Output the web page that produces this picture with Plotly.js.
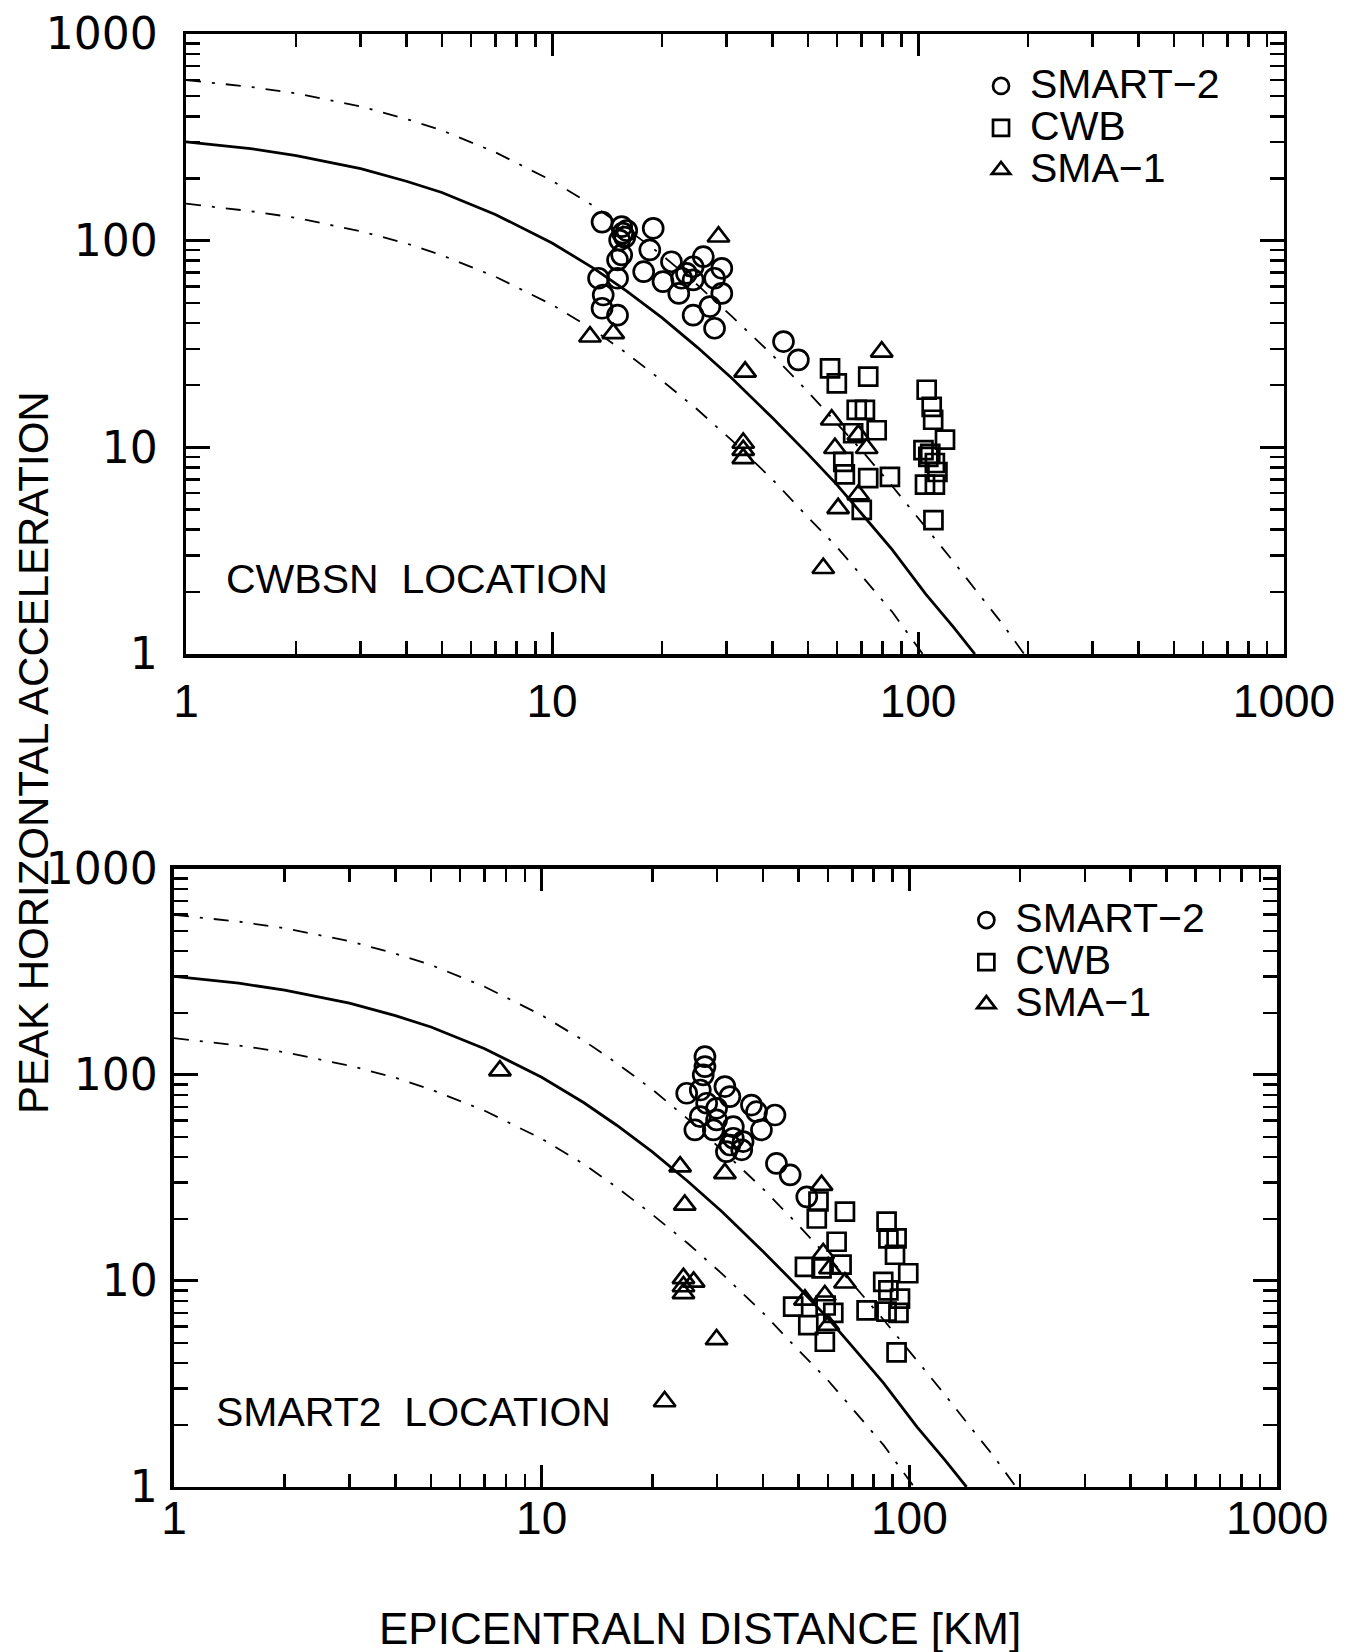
<!DOCTYPE html>
<html>
<head>
<meta charset="utf-8">
<script src="https://cdn.plot.ly/plotly-3.0.1.min.js"></script>
<style>html,body{margin:0;padding:0;background:#fff;}#chart{width:1357px;height:1652px;}</style>
</head>
<body>
<div id="chart"></div>
<script>
// ---------- data ----------
// Top panel: CWBSN location
var topSmartDist = [13.7,15.5,15.6,15.3,18.9,18.5,15.5,15.1,13.4,15.1,13.8,13.7,15.1,17.8,20.1,21.2,22.6,23.3,24.3,22.2,25.9,29.1,27.8,29.1,27.0,24.3,27.8,42.9,47.1,24.3,16.0,15.8];
var topSmartPga  = [123,117,108.7,100.7,114.8,90.2,85.3,80.7,65.8,65.8,54.6,47.1,43.6,70.8,63.4,79.1,65.8,69.5,64.6,55.6,83.7,73.5,65.8,55.6,48,43.6,37.7,32.5,26.5,74.8,112,104];
var topCwbDist = [57.5,60,73.1,68,71.6,77.1,66.5,62.5,63.1,73.1,83.8,70.2,105.6,109,110,118.5,103.5,106.7,111.2,104.5,111.2,110.2,108,113];
var topCwbPga  = [24.1,20.4,22,15.2,15.2,12.1,11.7,8.5,7.4,7.1,7.2,4.98,19,15.7,13.6,10.9,9.7,9.0,8.4,6.6,6.6,4.45,9.3,7.6];
var topSmaDist = [12.7,14.7,28.5,33.7,33.3,33.3,33.3,79.6,58.1,59.3,68.7,72.4,60.5,68.7,55.1];
var topSmaPga  = [34.3,35.6,104.5,23.2,10.5,9.7,8.85,29,13.6,9.9,11.5,9.9,5.07,5.9,2.6];

// Bottom panel: SMART2 location
var botSmartDist = [27.8,27.8,27.5,24.8,27,31.5,32.5,28.1,29.9,37.2,38.4,43.1,26.1,29.3,33.2,39.6,33.2,32.5,31.8,35,35.3,43.5,47.4,52.6,29.9,27];
var botSmartPga  = [122.7,109.7,100,81.5,84.5,87.8,78.5,72.9,68.9,71.4,66.3,63.9,54.1,54.1,56.1,54.1,49.3,45.7,42.4,43.3,47.5,37.2,32.7,25.6,60.5,62.8];
var botCwbDist = [56.6,66.8,56,63.4,65.4,52,57.7,48.3,62.1,53.1,58.9,76.5,86.7,92.3,87.7,91.4,99.3,84.9,87.7,94.3,86.7,93.4,92.3,59.2];
var botCwbPga  = [24.3,21.7,20.1,15.5,12,11.7,11.5,7.5,7,6.1,5.07,7.2,19.4,16.1,16.1,13.4,10.9,9.9,9,8.2,7.1,7,4.5,7.6];
var botSmaDist = [7.7,23.8,31.5,24.5,24.3,24.3,24.3,25.9,29.9,21.6,57.7,58.3,60.8,66.8,58.9,60.2,52];
var botSmaPga  = [105,35.9,33.3,23.4,10.3,9.4,8.7,9.9,5.2,2.6,29.2,13.6,11.5,9.8,8.5,6.1,8.1];

// Attenuation curves (same in both panels)
var meanDist  = [1,1.5,2,3,4,5,7,10,13,16,20,25,31,40,50,60,70,85,105,125,143];
var meanPga   = [301,279,258,223,194,171,134,97.5,73.5,57,42.3,30.4,21.6,13.9,9.3,6.6,4.8,3.2,1.95,1.35,1];
var upperDist = [1,1.5,2,3,4,5,7,10,13,16,20,25,31,40,50,60,70,85,105,125,145,170,195];
var upperPga  = [599,555,516,446,388,342,268,195,147,114,85,61,43,28,18.6,13.1,9.7,6.5,4.1,2.8,2.0,1.4,1];
var lowerDist = [1,1.5,2,3,4,5,7,10,13,16,20,25,31,40,50,60,70,85,103];
var lowerPga  = [151,139,129,111,97,85,67,49,37,28.5,21,15.2,10.8,7,4.6,3.3,2.4,1.6,1];

var tickVals = [1,10,100,1000];
var tickText = ['1','10','100','1000'];
var minorVals = [2,3,4,5,6,7,8,9,20,30,40,50,60,70,80,90,200,300,400,500,600,700,800,900];
var seriesNames = ['SMART\u22122','CWB','SMA\u22121'];
var panelLabels = ['CWBSN\u00a0\u00a0LOCATION','SMART2\u00a0\u00a0LOCATION'];
var xTitle = 'EPICENTRALN DISTANCE [KM]';
var yTitle = 'PEAK HORIZONTAL ACCELERATION';

// ---------- styles ----------
var ARIAL = 'Liberation Sans, Arial, sans-serif';
var WIDE = 'DejaVu Sans, Liberation Sans, sans-serif';
var dashDot = '15px,11px,3px,11px';

function curves(xa, ya) {
  return [
    {x: meanDist, y: meanPga, xaxis: xa, yaxis: ya, mode: 'lines', showlegend: false, hoverinfo: 'skip',
     line: {color: 'black', width: 2.8}},
    {x: upperDist, y: upperPga, xaxis: xa, yaxis: ya, mode: 'lines', showlegend: false, hoverinfo: 'skip',
     line: {color: 'black', width: 1.8, dash: dashDot}},
    {x: lowerDist, y: lowerPga, xaxis: xa, yaxis: ya, mode: 'lines', showlegend: false, hoverinfo: 'skip',
     line: {color: 'black', width: 1.8, dash: dashDot}}
  ];
}
function pts(xs, ys, xa, ya, name, symbol, size, legend) {
  return {x: xs, y: ys, xaxis: xa, yaxis: ya, mode: 'markers', name: '<span style="font-size:41px">' + name + '</span>',
    legend: legend, cliponaxis: false,
    marker: {symbol: symbol, size: size, color: 'black', line: {color: 'black', width: 2.7}}};
}

var data = [].concat(
  curves('x', 'y'),
  [pts(topSmartDist, topSmartPga, 'x', 'y', seriesNames[0], 'circle-open', 20, 'legend'),
   pts(topCwbDist, topCwbPga, 'x', 'y', seriesNames[1], 'square-open', 18, 'legend'),
   pts(topSmaDist, topSmaPga, 'x', 'y', seriesNames[2], 'triangle-up-open', 19, 'legend')],
  curves('x2', 'y2'),
  [pts(botSmartDist, botSmartPga, 'x2', 'y2', seriesNames[0], 'circle-open', 20, 'legend2'),
   pts(botCwbDist, botCwbPga, 'x2', 'y2', seriesNames[1], 'square-open', 18, 'legend2'),
   pts(botSmaDist, botSmaPga, 'x2', 'y2', seriesNames[2], 'triangle-up-open', 19, 'legend2')]
);

function xAxis(domain, anchor, standoff) {
  return {type: 'log', range: [0, 3], domain: domain, anchor: anchor,
    showline: true, linecolor: 'black', linewidth: 3.5, mirror: 'allticks',
    showgrid: false, zeroline: false,
    tickmode: 'array', tickvals: tickVals, ticktext: tickText,
    ticks: 'inside', ticklen: 22, tickwidth: 3, tickcolor: 'black',
    ticklabelstandoff: standoff,
    tickfont: {family: ARIAL, size: 46, color: 'black'},
    minor: {tickvals: minorVals, ticks: 'inside', ticklen: 13, tickwidth: 2.5, tickcolor: 'black', showgrid: false}};
}
function yAxis(domain, anchor, standoff) {
  return {type: 'log', range: [0, 3], domain: domain, anchor: anchor,
    showline: true, linecolor: 'black', linewidth: 3.5, mirror: 'allticks',
    showgrid: false, zeroline: false,
    tickmode: 'array', tickvals: tickVals, ticktext: tickText,
    ticks: 'inside', ticklen: 24, tickwidth: 3, tickcolor: 'black',
    ticklabelstandoff: standoff,
    tickfont: {family: WIDE, size: 44, color: 'black'},
    minor: {tickvals: minorVals, ticks: 'inside', ticklen: 14, tickwidth: 2.5, tickcolor: 'black', showgrid: false}};
}

var legendBase = {xanchor: 'left', yanchor: 'top', bgcolor: 'rgba(0,0,0,0)', borderwidth: 0,
  font: {family: ARIAL, size: 30, color: 'black'}, itemwidth: 48, itemsizing: 'trace', itemclick: false};

var layout = {
  width: 1357, height: 1652,
  margin: {l: 0, r: 0, t: 0, b: 0, pad: 0},
  paper_bgcolor: 'white', plot_bgcolor: 'white',
  font: {family: ARIAL, color: 'black'},
  xaxis: xAxis([0.1371, 0.9462], 'y', 4),
  yaxis: yAxis([0.6041, 0.9794], 'x', 16),
  xaxis2: xAxis([0.1282, 0.9411], 'y2', -12),
  yaxis2: yAxis([0.0999, 0.4740], 'x2', 4),
  legend: Object.assign({}, legendBase, {x: 0.7163, y: 0.9637}),
  legend2: Object.assign({}, legendBase, {x: 0.7055, y: 0.4588}),
  annotations: [
    {text: panelLabels[0], xref: 'paper', yref: 'paper', x: 0.1651, y: 0.6495, xanchor: 'left', yanchor: 'middle',
     showarrow: false, font: {family: ARIAL, size: 41, color: 'black'}},
    {text: panelLabels[1], xref: 'paper', yref: 'paper', x: 0.1577, y: 0.1453, xanchor: 'left', yanchor: 'middle',
     showarrow: false, font: {family: ARIAL, size: 41, color: 'black'}},
    {text: yTitle, xref: 'paper', yref: 'paper', x: 0.0251, y: 0.5442, xanchor: 'center', yanchor: 'middle',
     textangle: -90, showarrow: false, font: {family: ARIAL, size: 42, color: 'black'}},
    {text: xTitle, xref: 'paper', yref: 'paper', x: 0.5158, y: 0.0145, xanchor: 'center', yanchor: 'middle',
     showarrow: false, font: {family: ARIAL, size: 44, color: 'black'}}
  ]
};

Plotly.newPlot('chart', data, layout, {displayModeBar: false, staticPlot: true});
</script>
</body>
</html>
